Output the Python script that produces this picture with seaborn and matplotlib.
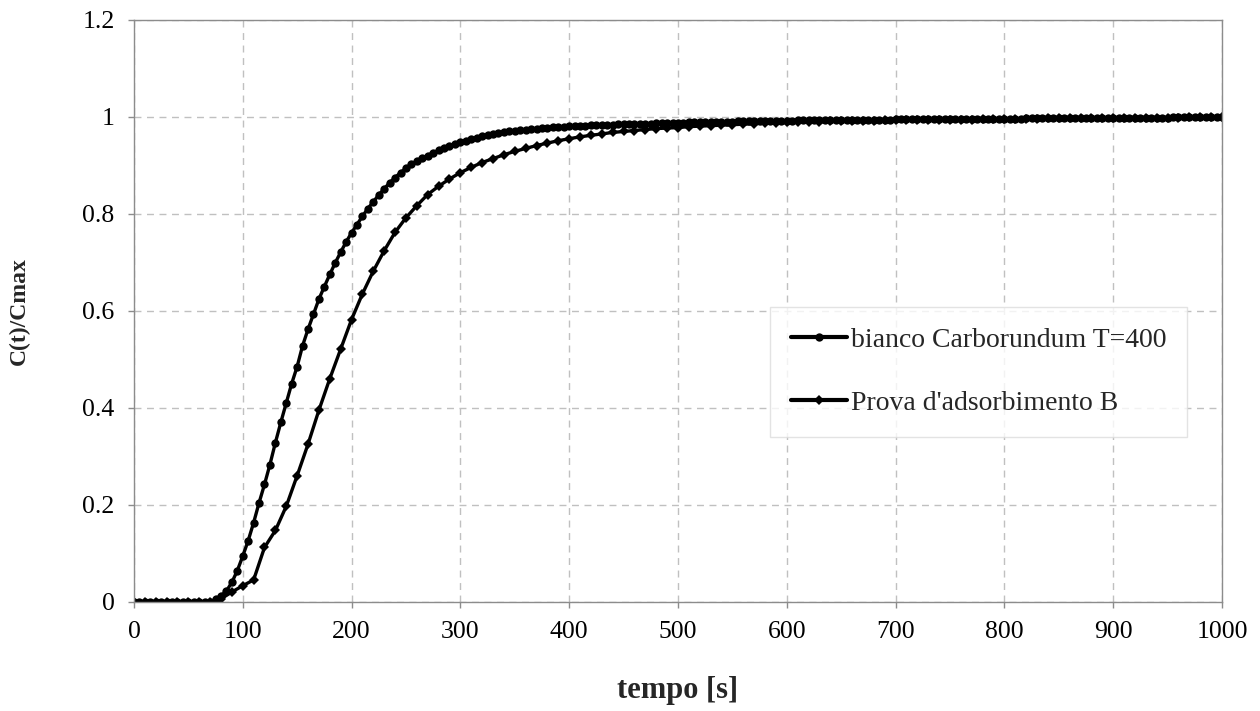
import matplotlib
matplotlib.use("Agg")
import matplotlib.pyplot as plt
import seaborn as sns
import numpy as np
import pandas as pd

# ---- data -------------------------------------------------------------
t_bianco = list(range(0, 1001, 5))
c_bianco = (
    [0.0] * 15 +                                   # 0 .. 70
    [0.005, 0.012, 0.022, 0.040, 0.064, 0.094, 0.126, 0.163, 0.204, 0.242,   # 75..120
     0.283, 0.328, 0.370, 0.410, 0.450, 0.485, 0.528, 0.562, 0.593, 0.624,   # 125..170
     0.650, 0.675, 0.699, 0.721, 0.742, 0.761, 0.778, 0.795, 0.811, 0.825,   # 175..220
     0.839, 0.852, 0.864, 0.875, 0.885, 0.894, 0.902, 0.909, 0.915, 0.920,   # 225..270
     0.926, 0.931, 0.936, 0.940, 0.944, 0.948, 0.951, 0.954, 0.957, 0.960,   # 275..320
     0.962, 0.964, 0.966, 0.968, 0.970, 0.971, 0.973, 0.974, 0.975, 0.976,   # 325..370
     0.977, 0.978, 0.979, 0.979, 0.980, 0.981, 0.981, 0.982, 0.982, 0.983,   # 375..420
     0.983, 0.984, 0.984, 0.984, 0.985, 0.985, 0.985, 0.986, 0.986, 0.986,   # 425..470
     0.986, 0.987, 0.987, 0.987, 0.988, 0.988, 0.988, 0.989, 0.989, 0.989,   # 475..520
     0.989, 0.990, 0.990, 0.990, 0.990, 0.990, 0.991, 0.991, 0.991, 0.991,   # 525..570
     0.991, 0.992, 0.992, 0.992, 0.992, 0.992, 0.992, 0.993, 0.993, 0.993,   # 575..620
     0.993, 0.993, 0.993, 0.993, 0.993, 0.994, 0.994, 0.994, 0.994, 0.994,   # 625..670
     0.994, 0.994, 0.994, 0.994, 0.994, 0.995, 0.995, 0.995, 0.995, 0.995,   # 675..720
     0.995, 0.995, 0.995, 0.995, 0.995, 0.995, 0.996, 0.996, 0.996, 0.996,   # 725..770
     0.996, 0.996, 0.996, 0.996, 0.996, 0.996, 0.996, 0.996, 0.996, 0.997,   # 775..820
     0.998, 0.998, 0.998, 0.998, 0.998, 0.998, 0.998, 0.998, 0.998, 0.998,   # 825..870
     0.998, 0.998, 0.998, 0.998, 0.998, 0.998, 0.998, 0.998, 0.998, 0.998,   # 875..920
     0.998, 0.998, 0.998, 0.998, 0.998, 0.998, 0.999, 0.999, 0.999, 0.999,   # 925..970
     0.999, 0.999, 0.999, 0.999, 0.999, 1.000]                              # 975..1000
)

t_prova = list(range(0, 1001, 10))
c_prova = (
    [0.0] * 8 +                                    # 0 .. 70
    [0.006, 0.020, 0.033, 0.045, 0.112, 0.147, 0.197, 0.260, 0.325, 0.395,   # 80..170
     0.460, 0.521, 0.582, 0.635, 0.682, 0.724, 0.762, 0.792, 0.817, 0.840,   # 180..270
     0.857, 0.872, 0.885, 0.896, 0.906, 0.914, 0.922, 0.929, 0.935, 0.941,   # 280..370
     0.946, 0.951, 0.955, 0.959, 0.962, 0.965, 0.968, 0.970, 0.972, 0.974,   # 380..470
     0.976, 0.977, 0.978, 0.980, 0.981, 0.982, 0.983, 0.984, 0.985, 0.986,   # 480..570
     0.987, 0.988, 0.989, 0.989, 0.990, 0.990, 0.991, 0.991, 0.992, 0.992,   # 580..670
     0.992, 0.993, 0.993, 0.993, 0.993, 0.994, 0.994, 0.994, 0.994, 0.994,   # 680..770
     0.995, 0.995, 0.995, 0.996, 0.996, 0.996, 0.997, 0.997, 0.997, 0.997,   # 780..870
     0.997, 0.997, 0.997, 0.998, 0.998, 0.998, 0.998, 0.998, 0.998, 0.999,   # 880..970
     0.999, 0.999, 1.000]                                                    # 980..1000
)

label_bianco = "bianco Carborundum T=400"
label_prova = "Prova d'adsorbimento B"
x_ticks = list(range(0, 1001, 100))
y_ticks = [0, 0.2, 0.4, 0.6, 0.8, 1, 1.2]
y_tick_labels = ["0", "0.2", "0.4", "0.6", "0.8", "1", "1.2"]

df_b = pd.DataFrame({"t": t_bianco, "c": c_bianco})
df_p = pd.DataFrame({"t": t_prova, "c": c_prova})

# ---- style ------------------------------------------------------------
sns.set_theme(style="white")
plt.rcParams["font.family"] = ["Liberation Serif", "DejaVu Serif"]

fig = plt.figure(figsize=(12.6, 7.11), dpi=100)
ax = fig.add_axes([0.1063, 0.1537, 0.8635, 0.8182])

sns.lineplot(data=df_b, x="t", y="c", ax=ax, color="black", linewidth=2.4,
             marker="o", markersize=6.0, markeredgewidth=0, label=label_bianco)
sns.lineplot(data=df_p, x="t", y="c", ax=ax, color="black", linewidth=2.4,
             marker="D", markersize=5.0, markeredgewidth=0, label=label_prova)

ax.set_xlim(0, 1000)
ax.set_ylim(0, 1.2)
ax.set_xticks(x_ticks)
ax.set_xticklabels([str(v) for v in x_ticks])
ax.set_yticks(y_ticks)
ax.set_yticklabels(y_tick_labels)
ax.tick_params(axis="both", labelsize=18.5, colors="black", length=4,
               direction="out", color="#8c8c8c", width=1, pad=10)
ax.tick_params(axis="both", which="both", bottom=True, left=True)

ax.grid(True, color="#c0c0c0", linestyle=(0, (5, 4)), linewidth=1)
ax.set_axisbelow(True)
for s in ax.spines.values():
    s.set_color("#8c8c8c")
    s.set_linewidth(1)

ax.set_xlabel("tempo [s]", fontsize=22, fontweight="bold", labelpad=24)
ax.set_ylabel("C(t)/Cmax", fontsize=17, fontweight="bold", labelpad=38)

leg = ax.legend(loc="upper left", bbox_to_anchor=(0.585, 0.507), fontsize=20,
                frameon=True, fancybox=False, edgecolor="#dcdcdc",
                handlelength=2.0, handletextpad=0.15, borderpad=0.75,
                labelspacing=1.35, markerscale=1.0, borderaxespad=0)
leg.get_frame().set_linewidth(1)
for ln in leg.get_lines():
    ln.set_linewidth(3.0)

fig.savefig("out.png", dpi=100)
